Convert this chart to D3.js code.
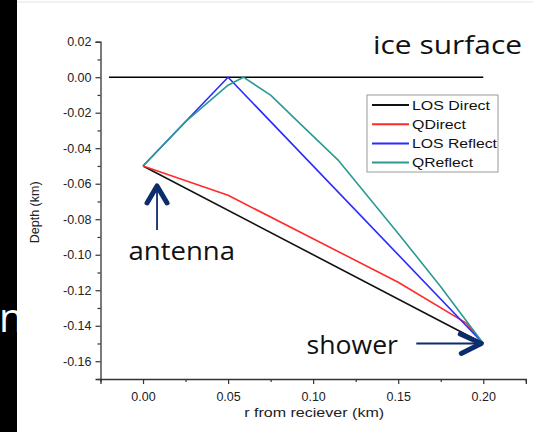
<!DOCTYPE html>
<html>
<head>
<meta charset="utf-8">
<script src="https://cdn.jsdelivr.net/npm/d3@7"></script>
<style>
  html, body { margin: 0; padding: 0; background: #fff; }
  svg { display: block; }
</style>
</head>
<body>
<div id="chart"></div>
<script>
// series, r (km) and depth (km)
const seriesNames = ["LOS Direct", "QDirect", "LOS Reflect", "QReflect"]
const seriesColors = ["#111111", "#ff2a2a", "#2b2bff", "#2a9a92"]

const losDirectR = [0, 0.2]
const losDirectZ = [-0.05, -0.15]

const qDirectR = [0, 0.05, 0.1, 0.15, 0.19, 0.2]
const qDirectZ = [-0.05, -0.0665, -0.091, -0.1155, -0.1385, -0.15]

const losReflectR = [0, 0.05, 0.2]
const losReflectZ = [-0.05, 0, -0.15]

const qReflectR = [0, 0.025, 0.05, 0.059, 0.075, 0.09, 0.115, 0.15, 0.175, 0.2]
const qReflectZ = [-0.05, -0.025, -0.0045, 0, -0.0101, -0.024, -0.047, -0.088, -0.118, -0.15]

const surfaceR = [-0.02, 0.2]
const surfaceZ = [0, 0]

const xMajor = [0, 0.05, 0.1, 0.15, 0.2]
const xMinor = [-0.025, 0.025, 0.075, 0.125, 0.175, 0.225]
const yMajor = [0.02, 0, -0.02, -0.04, -0.06, -0.08, -0.1, -0.12, -0.14, -0.16]
const yMinor = [0.01, -0.01, -0.03, -0.05, -0.07, -0.09, -0.11, -0.13, -0.15, -0.17]

const width = 533
const height = 432

const svg = d3.select("#chart")
    .append("svg")
    .attr("width", width)
    .attr("height", height)

// slide background bits
svg.append("rect").attr("x", 0).attr("y", 0).attr("width", 17).attr("height", height).attr("fill", "#000")
svg.append("line").attr("x1", 17).attr("x2", width).attr("y1", 2).attr("y2", 2)
    .attr("stroke", "#ececec").attr("stroke-width", 1.5)
svg.append("clipPath").attr("id", "strip")
    .append("rect").attr("x", 0).attr("y", 0).attr("width", 17).attr("height", height)
svg.append("text")
    .attr("clip-path", "url(#strip)")
    .attr("x", -1).attr("y", 332)
    .attr("font-family", "Open Sans")
    .attr("font-size", 40)
    .attr("fill", "#fff")
    .text("n")

const x = d3.scaleLinear().domain([-0.025, 0.225]).range([100.5, 525.8])
const y = d3.scaleLinear().domain([-0.17, 0.02]).range([379, 41.7])

const axisColor = "#333"

function styleAxis(g) {
    g.select(".domain").attr("stroke", axisColor).attr("stroke-width", 1.3)
    g.selectAll(".tick line").attr("stroke", axisColor).attr("stroke-width", 1.2)
    g.selectAll(".tick text")
        .attr("font-family", "Liberation Sans, Arial, sans-serif")
        .attr("font-size", 12.5)
        .attr("fill", "#222")
}

// x axis
const gx = svg.append("g")
    .attr("transform", `translate(0,${y(-0.17)})`)
    .call(d3.axisBottom(x).tickValues(xMajor).tickSize(5).tickPadding(8).tickFormat(d3.format(".2f")))
styleAxis(gx)
const gxm = svg.append("g")
    .attr("transform", `translate(0,${y(-0.17)})`)
    .call(d3.axisBottom(x).tickValues(xMinor).tickSize(3).tickFormat(""))
styleAxis(gxm)
gxm.select(".domain").remove()

// y axis
const gy = svg.append("g")
    .attr("transform", `translate(${x(-0.025)},0)`)
    .call(d3.axisLeft(y).tickValues(yMajor).tickSize(5).tickPadding(4).tickFormat(d3.format(".2f")))
styleAxis(gy)
gy.selectAll(".tick text").text(d => d3.format(".2f")(d).replace("−", "-"))
const gym = svg.append("g")
    .attr("transform", `translate(${x(-0.025)},0)`)
    .call(d3.axisLeft(y).tickValues(yMinor).tickSize(3).tickFormat(""))
styleAxis(gym)
gym.select(".domain").remove()

svg.append("text")
    .attr("x", (x(-0.025) + x(0.225)) / 2 + 1)
    .attr("y", 417)
    .attr("text-anchor", "middle")
    .attr("font-family", "Liberation Sans, Arial, sans-serif")
    .attr("font-size", 13.5)
    .attr("textLength", 140)
    .attr("lengthAdjust", "spacingAndGlyphs")
    .attr("fill", "#222")
    .text("r from reciever (km)")

svg.append("text")
    .attr("transform", `translate(39,${(y(-0.17) + y(0.02)) / 2 + 2}) rotate(-90)`)
    .attr("text-anchor", "middle")
    .attr("font-family", "Liberation Sans, Arial, sans-serif")
    .attr("font-size", 12.5)
    .attr("fill", "#222")
    .text("Depth (km)")

// lines
const line = d3.line().x(d => x(d[0])).y(d => y(d[1]))

svg.append("path")
    .datum(d3.zip(surfaceR, surfaceZ))
    .attr("d", line)
    .attr("fill", "none")
    .attr("stroke", "#000")
    .attr("stroke-width", 1.4)

const seriesR = [losDirectR, qDirectR, losReflectR, qReflectR]
const seriesZ = [losDirectZ, qDirectZ, losReflectZ, qReflectZ]

seriesNames.forEach((name, i) => {
    svg.append("path")
        .datum(d3.zip(seriesR[i], seriesZ[i]))
        .attr("d", line)
        .attr("fill", "none")
        .attr("stroke", seriesColors[i])
        .attr("stroke-width", 1.6)
        .attr("stroke-linejoin", "round")
})

// legend
const legend = svg.append("g").attr("transform", "translate(367,95)")
legend.append("rect")
    .attr("width", 131).attr("height", 77)
    .attr("fill", "#fff").attr("stroke", "#999").attr("stroke-width", 1)
const legendWidths = [78, 54, 85, 61]
seriesNames.forEach((name, i) => {
    const ly = 10 + i * 19.2
    legend.append("line")
        .attr("x1", 5).attr("x2", 42).attr("y1", ly).attr("y2", ly)
        .attr("stroke", seriesColors[i]).attr("stroke-width", 2)
    legend.append("text")
        .attr("x", 45).attr("y", ly + 4.5)
        .attr("font-family", "Liberation Sans, Arial, sans-serif")
        .attr("font-size", 12.5)
        .attr("textLength", legendWidths[i])
        .attr("lengthAdjust", "spacingAndGlyphs")
        .attr("fill", "#111")
        .text(name)
})

// annotations
const navy = "#0b2d6b"
const noteFont = "Open Sans, Noto Sans, sans-serif"

function note(label, px, py, len) {
    svg.append("text")
        .attr("x", px).attr("y", py)
        .attr("font-family", noteFont)
        .attr("font-size", 25)
        .attr("textLength", len)
        .attr("lengthAdjust", "spacingAndGlyphs")
        .attr("fill", "#111")
        .text(label)
}

note("ice surface", 373, 53.5, 149)
note("antenna", 128.5, 260, 106.5)
note("shower", 306.5, 353.5, 91.5)

// antenna arrow
const ax = x(0) + 14, ay = y(-0.05) + 20
svg.append("line").attr("x1", ax).attr("x2", ax).attr("y1", ay + 2).attr("y2", ay + 44)
    .attr("stroke", navy).attr("stroke-width", 1.8)
svg.append("path")
    .attr("d", `M${ax - 10},${ay + 17} L${ax},${ay} L${ax + 10},${ay + 17}`)
    .attr("fill", "none").attr("stroke", navy).attr("stroke-width", 5)
    .attr("stroke-linecap", "round").attr("stroke-linejoin", "round")

// shower arrow
const sx = x(0.2) - 2, sy = y(-0.15)
svg.append("line").attr("x1", sx - 65).attr("x2", sx - 2).attr("y1", sy).attr("y2", sy)
    .attr("stroke", navy).attr("stroke-width", 1.8)
svg.append("path")
    .attr("d", `M${sx - 21},${sy - 9.5} L${sx},${sy} L${sx - 20},${sy + 10}`)
    .attr("fill", "none").attr("stroke", navy).attr("stroke-width", 5)
    .attr("stroke-linecap", "round").attr("stroke-linejoin", "round")
</script>
</body>
</html>
